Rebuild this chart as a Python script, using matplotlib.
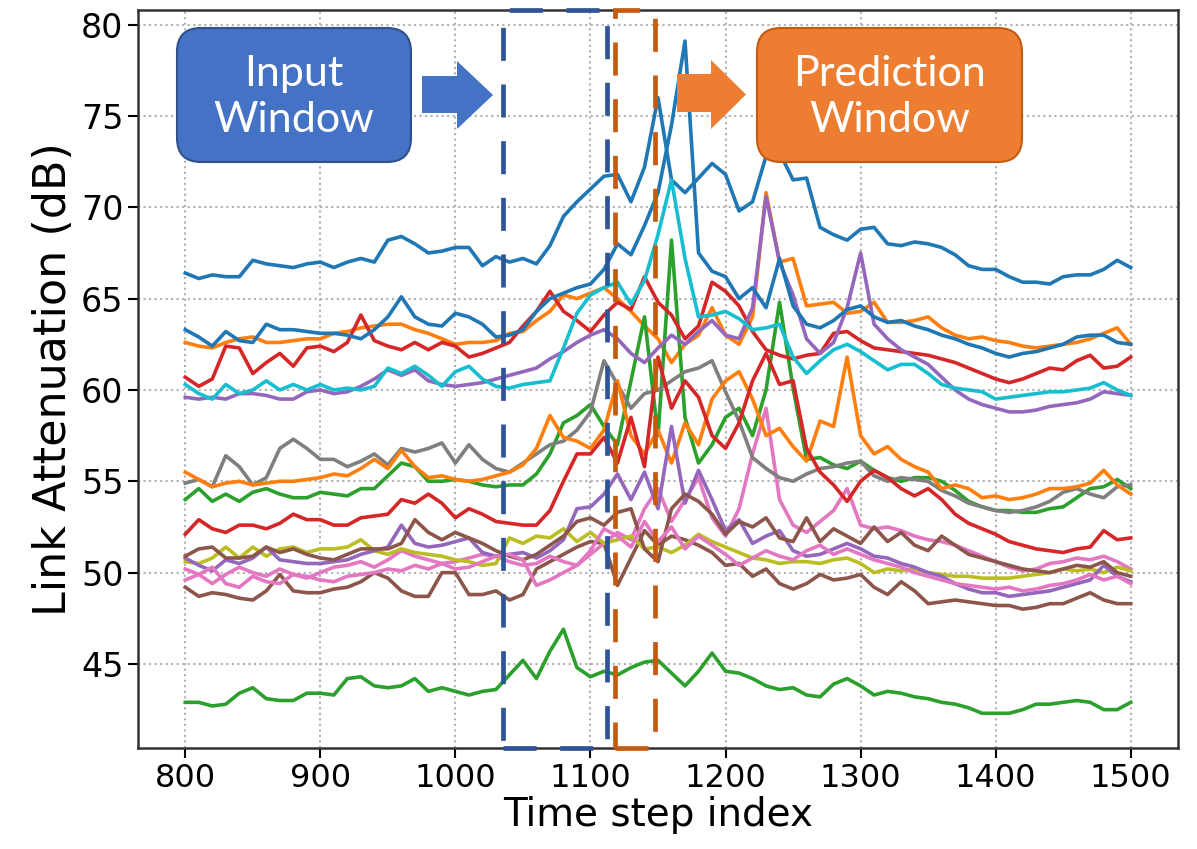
import matplotlib.pyplot as plt
from matplotlib.patches import FancyBboxPatch, Polygon, Rectangle
from matplotlib.transforms import Affine2D

# time axis, sampled every 10 steps
steps = list(range(800, 1501, 10))

link_01 = [66.4, 66.1, 66.3, 66.2, 66.2, 67.1, 66.9, 66.8, 66.7, 66.9,
           67.0, 66.7, 67.0, 67.2, 67.0, 68.2, 68.4, 68.0, 67.5, 67.6,
           67.8, 67.8, 66.8, 67.3, 67.0, 67.2, 66.9, 67.9, 69.5, 70.3,
           71.0, 71.7, 71.8, 70.3, 72.2, 76.0, 71.5, 70.8, 71.6, 72.4,
           71.8, 69.8, 70.3, 72.8, 73.0, 71.5, 71.6, 68.9, 68.5, 68.2,
           68.8, 68.9, 68.0, 67.9, 68.1, 68.0, 67.8, 67.4, 66.8, 66.6,
           66.6, 66.2, 65.9, 65.9, 65.8, 66.2, 66.3, 66.3, 66.6, 67.1,
           66.7]
link_02 = [62.6, 62.4, 62.3, 62.6, 62.8, 62.9, 62.6, 62.6, 62.7, 62.8,
           62.8, 63.1, 63.2, 63.4, 63.5, 63.6, 63.6, 63.3, 63.1, 62.8,
           62.5, 62.6, 62.6, 62.7, 63.1, 63.2, 63.8, 64.3, 65.2, 65.0,
           65.3, 65.6, 65.0, 64.3, 63.5, 62.8, 61.5, 62.5, 63.0, 64.5,
           63.0, 62.5, 64.0, 70.8, 67.0, 67.2, 64.6, 64.7, 64.8, 64.2,
           64.3, 64.8, 63.7, 63.7, 63.8, 64.0, 63.4, 63.0, 62.8, 62.9,
           62.7, 62.6, 62.4, 62.3, 62.4, 62.5, 62.6, 62.8, 63.1, 63.4,
           62.5]
link_03 = [54.0, 54.6, 53.9, 54.3, 53.9, 54.4, 54.6, 54.3, 54.1, 54.1,
           54.4, 54.3, 54.2, 54.6, 54.6, 55.3, 56.0, 55.8, 55.0, 55.0,
           55.1, 55.0, 54.8, 54.7, 54.8, 54.8, 55.4, 56.5, 58.2, 58.6,
           59.2, 58.0, 57.0, 60.5, 64.0, 57.5, 68.2, 58.5, 56.0, 57.0,
           58.5, 59.0, 57.5, 60.0, 64.8, 60.1, 56.2, 56.3, 55.9, 55.7,
           56.1, 55.6, 55.2, 55.0, 55.2, 55.2, 55.0, 54.5, 53.9, 53.6,
           53.4, 53.4, 53.3, 53.3, 53.5, 53.6, 54.1, 54.6, 54.7, 55.1,
           54.6]
link_04 = [60.7, 60.2, 60.6, 62.4, 62.3, 60.9, 61.5, 62.0, 61.3, 62.3,
           62.4, 62.1, 62.6, 64.1, 62.7, 62.4, 62.2, 62.6, 62.2, 62.6,
           62.4, 61.8, 62.0, 62.3, 62.6, 63.5, 64.3, 65.4, 64.3, 63.8,
           63.2, 64.1, 64.8, 64.4, 66.2, 64.8, 64.1, 62.8, 63.5, 65.9,
           65.4, 64.6, 63.2, 62.2, 61.9, 61.7, 61.9, 62.0, 63.1, 63.2,
           62.7, 62.3, 62.2, 62.1, 62.0, 61.9, 61.7, 61.5, 61.2, 60.9,
           60.6, 60.4, 60.6, 60.9, 61.2, 61.1, 61.6, 61.9, 61.2, 61.3,
           61.8]
link_05 = [59.6, 59.5, 59.6, 59.5, 59.8, 59.8, 59.7, 59.5, 59.5, 59.9,
           60.0, 59.8, 59.9, 60.2, 60.6, 61.1, 60.8, 61.1, 60.5, 60.3,
           60.2, 60.3, 60.4, 60.6, 60.8, 61.0, 61.2, 61.7, 62.1, 62.6,
           63.0, 63.3, 62.8, 62.0, 61.5, 62.3, 63.0, 62.5, 63.2, 63.8,
           63.0, 62.8, 64.5, 70.6, 67.0, 65.2, 62.8, 62.0, 62.6, 64.5,
           67.5, 63.6, 62.8, 62.2, 61.8, 61.4, 60.7, 60.0, 59.5, 59.2,
           59.0, 58.8, 58.8, 58.9, 59.1, 59.2, 59.3, 59.5, 59.9, 59.8,
           59.7]
link_06 = [49.2, 48.7, 48.9, 48.8, 48.6, 48.5, 49.0, 49.9, 49.0, 48.9,
           48.9, 49.1, 49.2, 49.5, 50.0, 49.7, 49.0, 48.7, 48.7, 50.0,
           50.0, 48.8, 48.8, 49.0, 48.5, 48.8, 50.2, 50.6, 51.0, 51.4,
           51.7, 51.6, 49.3, 50.8, 52.3, 51.5, 52.0, 51.8, 51.5, 51.1,
           50.4, 50.5, 49.8, 50.2, 49.4, 49.1, 49.4, 49.9, 49.6, 49.7,
           49.9, 49.2, 48.8, 49.5, 49.0, 48.3, 48.4, 48.5, 48.4, 48.3,
           48.2, 48.2, 48.0, 48.1, 48.3, 48.3, 48.6, 48.9, 48.5, 48.3,
           48.3]
link_07 = [50.2, 49.9, 49.4, 49.9, 50.3, 50.0, 49.8, 50.2, 49.9, 49.7,
           50.0, 50.3, 50.4, 50.6, 50.3, 50.7, 51.2, 50.9, 50.7, 50.5,
           50.6, 50.8, 51.0, 50.9, 50.6, 50.4, 50.5, 50.9, 50.6, 50.4,
           51.0, 51.6, 52.2, 51.8, 53.5, 54.6, 52.8, 54.0, 55.2, 53.0,
           52.0, 53.5, 56.5, 59.0, 54.0, 52.6, 52.2, 52.8, 53.4, 54.6,
           52.6, 52.4, 52.5, 52.3, 52.0, 51.8, 51.7, 51.5, 51.2, 50.9,
           50.6, 50.3, 50.1, 50.2, 50.5, 50.6, 50.8, 50.7, 50.9, 50.6,
           50.2]
link_08 = [54.9, 55.1, 54.7, 56.4, 55.8, 54.8, 55.2, 56.8, 57.3, 56.8,
           56.2, 56.2, 55.8, 56.1, 56.5, 55.9, 56.8, 56.6, 56.8, 57.1,
           56.0, 57.0, 56.2, 55.7, 55.5, 56.0, 56.5, 57.0, 57.2, 57.8,
           58.8, 61.6, 60.3, 59.0, 59.8, 60.0, 60.5, 61.0, 61.2, 61.6,
           59.9, 58.3, 56.3, 55.7, 55.2, 55.0, 55.4, 55.7, 55.8, 56.0,
           56.1, 55.3, 55.0, 55.2, 55.1, 55.0, 54.5, 54.2, 53.8, 53.6,
           53.4, 53.3, 53.4, 53.6, 53.9, 54.4, 54.6, 54.3, 54.1, 54.7,
           54.8]
link_09 = [50.6, 50.5, 50.8, 51.4, 50.8, 51.4, 50.9, 51.3, 51.4, 51.1,
           51.3, 51.3, 51.4, 51.8, 51.2, 51.0, 51.3, 51.1, 51.0, 50.9,
           50.7, 50.6, 50.4, 50.5, 51.9, 51.6, 52.0, 51.9, 52.4, 51.7,
           52.2, 51.6, 51.8, 52.0, 51.3, 51.4, 51.1, 51.5, 52.1, 51.7,
           51.4, 51.1, 50.8, 50.7, 50.5, 50.6, 50.6, 50.5, 50.7, 50.8,
           50.5, 50.0, 50.2, 50.1, 50.2, 50.0, 49.9, 49.8, 49.8, 49.7,
           49.7, 49.7, 49.8, 49.9, 50.0, 50.2, 50.1, 50.2, 50.0, 50.3,
           50.1]
link_10 = [60.3, 59.8, 59.5, 60.3, 59.8, 60.0, 60.5, 60.0, 60.3, 60.0,
           60.3, 60.0, 60.1, 60.0, 60.2, 61.2, 60.9, 61.3, 60.8, 60.2,
           61.0, 61.3, 60.6, 60.2, 60.1, 60.3, 60.4, 60.5, 62.3, 64.2,
           65.2, 65.6, 65.9, 64.7, 66.0, 68.5, 71.5, 67.2, 64.0, 64.1,
           64.3, 63.9, 63.3, 63.4, 63.6, 61.8, 60.9, 61.6, 62.2, 62.5,
           62.1, 61.6, 61.1, 61.4, 61.4, 60.9, 60.3, 60.1, 60.0, 59.9,
           59.5, 59.6, 59.7, 59.8, 59.9, 59.9, 60.0, 60.1, 60.4, 60.0,
           59.7]
link_11 = [63.3, 62.9, 62.4, 63.2, 62.7, 62.6, 63.6, 63.3, 63.3, 63.2,
           63.1, 63.1, 63.0, 62.8, 63.3, 64.0, 65.1, 64.0, 63.6, 63.5,
           64.2, 64.0, 63.6, 62.9, 63.0, 63.3, 64.3, 65.0, 65.3, 65.6,
           65.8, 66.6, 68.0, 67.4, 69.0, 70.8, 74.5, 79.1, 67.5, 66.5,
           66.2, 65.0, 65.6, 64.5, 67.2, 64.6, 63.6, 63.4, 63.8, 64.4,
           64.6, 64.0, 63.7, 63.8, 63.5, 63.3, 63.0, 62.8, 62.5, 62.3,
           62.0, 61.8, 62.0, 62.1, 62.3, 62.5, 62.9, 63.0, 63.0, 62.6,
           62.5]
link_12 = [55.5, 55.1, 54.7, 54.9, 55.0, 54.8, 54.9, 55.0, 55.0, 55.1,
           55.2, 55.4, 55.3, 55.7, 56.2, 55.7, 56.7, 55.8, 55.2, 55.3,
           55.1, 55.0, 55.1, 55.3, 55.5, 55.9, 56.8, 58.6, 57.4, 57.2,
           56.8, 57.8, 60.5, 57.5, 56.5, 57.8, 56.0, 58.2, 57.0, 59.5,
           60.5, 61.0, 59.5, 57.5, 57.9, 56.9, 56.1, 58.3, 58.0, 61.8,
           57.5, 56.5, 56.9, 56.2, 55.8, 55.5, 54.6, 54.8, 54.6, 54.1,
           54.2, 54.0, 54.1, 54.3, 54.6, 54.6, 54.7, 54.9, 55.6, 54.8,
           54.3]
link_13 = [42.9, 42.9, 42.7, 42.8, 43.4, 43.7, 43.1, 43.0, 43.0, 43.4,
           43.4, 43.3, 44.2, 44.3, 43.8, 43.7, 43.8, 44.2, 43.5, 43.7,
           43.5, 43.3, 43.5, 43.6, 44.4, 45.2, 44.2, 45.7, 46.9, 44.8,
           44.3, 44.6, 44.4, 44.8, 45.1, 45.2, 44.5, 43.8, 44.6, 45.6,
           44.6, 44.5, 44.2, 43.8, 43.6, 43.7, 43.3, 43.2, 43.9, 44.2,
           43.8, 43.3, 43.5, 43.4, 43.2, 43.1, 42.9, 42.8, 42.6, 42.3,
           42.3, 42.3, 42.5, 42.8, 42.8, 42.9, 43.0, 42.9, 42.5, 42.5,
           42.9]
link_14 = [52.1, 52.9, 52.4, 52.2, 52.6, 52.6, 52.4, 52.7, 53.2, 52.9,
           52.9, 52.6, 52.6, 53.0, 53.1, 53.2, 54.0, 53.8, 54.3, 53.8,
           53.0, 53.5, 53.2, 52.8, 52.7, 52.6, 52.6, 53.4, 55.0, 56.5,
           56.5, 57.4, 56.0, 58.5, 55.8, 61.8, 59.0, 60.5, 59.6, 57.5,
           56.8, 58.2, 60.5, 62.0, 60.3, 60.5, 56.8, 55.5, 54.8, 53.9,
           55.0, 55.6, 55.2, 54.6, 54.2, 54.6, 54.0, 53.2, 52.7, 52.4,
           52.1, 51.7, 51.5, 51.3, 51.2, 51.1, 51.3, 51.4, 52.3, 51.8,
           51.9]
link_15 = [50.8, 50.4, 50.1, 50.7, 50.5, 50.8, 51.4, 50.7, 50.6, 50.5,
           50.5, 50.6, 50.7, 51.0, 51.2, 51.4, 52.6, 51.6, 51.4, 51.5,
           51.7, 51.9, 51.1, 50.9, 51.0, 51.1, 50.8, 51.2, 51.8, 53.5,
           53.6, 54.3, 55.4, 54.0, 55.5, 53.5, 58.0, 53.8, 55.6, 54.0,
           52.3, 52.9, 51.6, 52.0, 52.3, 51.2, 50.9, 51.0, 51.3, 51.6,
           51.3, 50.9, 50.8, 50.5, 50.3, 50.0, 49.8, 49.4, 49.1, 48.9,
           48.9, 48.7, 48.8, 48.9, 49.0, 49.2, 49.4, 49.6, 50.4, 49.8,
           49.5]
link_16 = [50.9, 51.3, 51.4, 50.8, 50.8, 50.9, 51.4, 51.1, 51.3, 51.0,
           50.8, 50.7, 51.0, 51.3, 51.3, 51.3, 51.6, 52.9, 52.2, 51.8,
           52.2, 51.9, 51.6, 51.2, 50.9, 50.7, 51.0, 51.5, 52.0, 52.8,
           53.0, 52.6, 53.3, 53.5, 51.3, 50.6, 53.5, 54.3, 53.9, 53.2,
           52.1, 52.8, 52.5, 53.0, 51.9, 51.7, 53.0, 51.7, 52.4, 52.0,
           51.6, 52.5, 51.7, 52.2, 51.5, 51.2, 52.0, 51.5, 51.0, 50.8,
           50.6, 50.4, 50.2, 50.1, 50.0, 50.2, 50.4, 50.3, 50.6, 50.0,
           49.8]
link_17 = [49.6, 49.9, 50.3, 49.4, 49.2, 49.8, 49.5, 49.4, 49.9, 49.8,
           49.6, 49.5, 49.8, 49.9, 50.0, 50.2, 50.1, 50.4, 50.2, 50.5,
           50.2, 50.3, 50.6, 50.9, 51.0, 50.7, 49.3, 49.6, 50.0, 50.4,
           51.2, 52.4, 52.0, 51.4, 52.8, 51.7, 52.5, 51.3, 52.0, 51.5,
           51.0, 50.4, 50.8, 51.2, 50.9, 50.7, 51.2, 51.5, 51.0, 51.3,
           51.0, 50.7, 50.5, 50.3, 50.0, 49.8, 49.6, 49.4, 49.3, 49.2,
           49.1, 49.2, 49.0, 49.1, 49.3, 49.4, 49.6, 49.9, 49.6, 49.8,
           49.4]

links = [link_01, link_02, link_03, link_04, link_05, link_06, link_07,
         link_08, link_09, link_10, link_11, link_12, link_13, link_14,
         link_15, link_16, link_17]

input_window = (1035, 1112)
prediction_window = (1118, 1148)

W, H = 1197, 849
fig = plt.figure(figsize=(W / 100, H / 100), dpi=100)
ax = fig.add_axes([138 / W, 1 - 748 / H, 1040 / W, 738 / H])

for series in links:
    ax.plot(steps, series, lw=2.6)

ax.set_xlim(765, 1535)
ax.set_ylim(40.4, 80.8)
ax.set_xticks(range(800, 1501, 100))
ax.set_yticks(range(45, 81, 5))
ax.grid(True, ls=':', lw=1.5, color='#b0b0b0')
ax.tick_params(labelsize=23, length=7, width=1.5)
ax.tick_params(axis='y', labelsize=24)
for s in ax.spines.values():
    s.set_linewidth(1.8)
    s.set_color('#333333')
ax.set_xlabel('Time step index', fontsize=28, labelpad=2)
ax.set_ylabel('Link Attenuation (dB)', fontsize=32, labelpad=4)

# dashed window frames
trans = ax.get_xaxis_transform()
for (x0, x1), col in [(input_window, '#2F5597'), (prediction_window, '#C55A11')]:
    ax.add_patch(Rectangle((x0, 0.0), x1 - x0, 1.0, transform=trans, fill=False,
                           ec=col, lw=3.4, ls=(0, (7, 5)), clip_on=False, zorder=5))

# overlay boxes and arrows in pixel coordinates (origin top-left)
px = Affine2D().scale(1, -1).translate(0, H)

boxes = [((177, 28, 234, 134), '#4472C4', '#2F528F', 'Input\nWindow'),
         ((757, 28, 265, 134), '#ED7D31', '#C55A11', 'Prediction\nWindow')]
for (x, y, w, h), fc, ec, label in boxes:
    fig.patches.append(FancyBboxPatch((x, y), w, h, boxstyle='round,pad=0,rounding_size=24',
                                      transform=px, fc=fc, ec=ec, lw=1.5, zorder=6))
    fig.text(x + w / 2, y + h / 2 + 2, label, transform=px, ha='center', va='center',
             color='white', fontsize=31, family='Lato', linespacing=1.25, zorder=7)

arrows = [((422, 457, 493), (76, 113), (61, 129), '#4472C4'),
          ((677, 711, 746), (74, 112), (60, 129), '#ED7D31')]
for (xs, xh, xt), (s0, s1), (h0, h1), col in arrows:
    pts = [(xs, s0), (xh, s0), (xh, h0), (xt, (h0 + h1) / 2), (xh, h1), (xh, s1), (xs, s1)]
    fig.patches.append(Polygon(pts, closed=True, transform=px, fc=col, ec='none', zorder=6))

fig.savefig('out.png', dpi=100)
